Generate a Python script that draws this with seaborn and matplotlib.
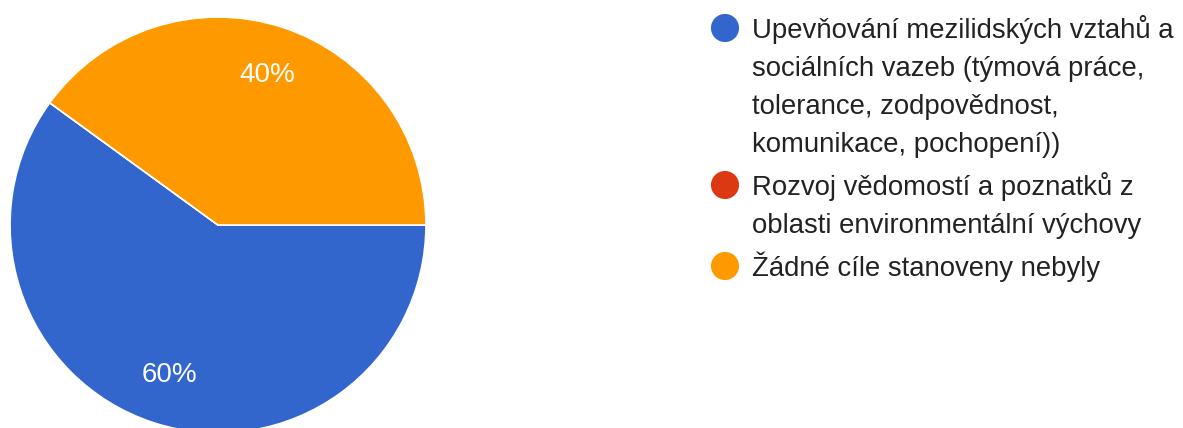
import matplotlib
matplotlib.use('Agg')
import matplotlib.pyplot as plt
import seaborn as sns

# Data
labels = [
    "Upevňování mezilidských vztahů a\nsociálních vazeb (týmová práce,\ntolerance, zodpovědnost,\nkomunikace, pochopení))",
    "Rozvoj vědomostí a poznatků z\noblasti environmentální výchovy",
    "Žádné cíle stanoveny nebyly",
]
shares = [60, 0, 40]
colors = ["#3366CC", "#DC3912", "#FF9900"]

sns.set_theme(style="white")
plt.rcParams['font.family'] = ['Liberation Sans', 'DejaVu Sans']

W, H = 1183, 428
fig = plt.figure(figsize=(W / 100, H / 100), dpi=100)

# pie: centre (218, 225) px, radius ~209 px
cx, cy, r = 218, 225, 209
ax = fig.add_axes([(cx - r) / W, (H - cy - r) / H, 2 * r / W, 2 * r / H])


def pct_label(p):
    return f"{p:.0f}%" if p >= 1 else ""


wedges, texts, autotexts = ax.pie(
    shares, colors=colors, startangle=0, counterclock=False,
    autopct=pct_label, pctdistance=0.76, radius=1,
    wedgeprops=dict(edgecolor="white", linewidth=1.2),
    textprops=dict(color="white", fontsize=20),
)
ax.set_xlim(-1.005, 1.005)
ax.set_ylim(-1.005, 1.005)
ax.set_aspect("equal")
ax.axis("off")

# legend drawn by hand so the dot sits on the first line of each entry
lax = fig.add_axes([0, 0, 1, 1])
lax.set_xlim(0, W)
lax.set_ylim(H, 0)
lax.axis("off")

line_h = 38
gap = 5
y = 38  # baseline of first line
for lab, col in zip(labels, colors):
    n = lab.count("\n") + 1
    lax.scatter([725], [y - 10], s=410, color=col, edgecolor="none")
    for i, part in enumerate(lab.split("\n")):
        lax.text(752, y + i * line_h, part, fontsize=19.8, color="#222222",
                 va="baseline", ha="left")
    y += n * line_h + gap

fig.savefig("out.png", dpi=100, facecolor="white")
plt.close(fig)
